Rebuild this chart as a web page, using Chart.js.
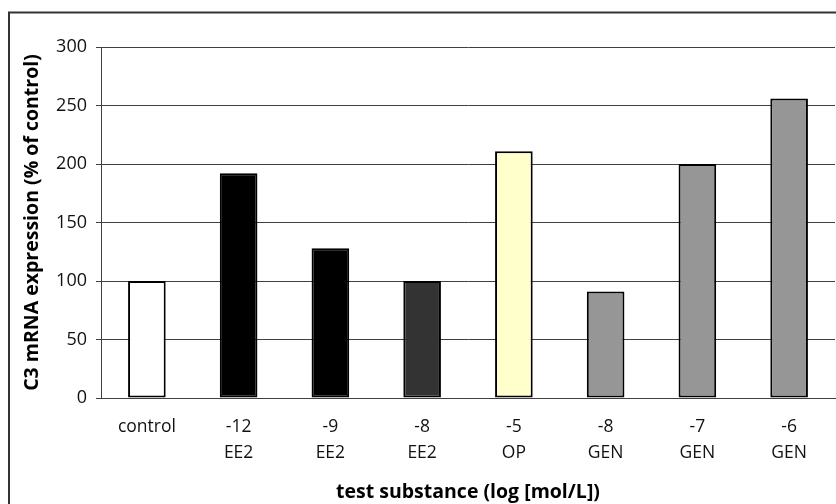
<!DOCTYPE html>
<html>
<head>
<meta charset="utf-8">
<script src="https://cdn.jsdelivr.net/npm/chart.js@4/dist/chart.umd.min.js"></script>
<style>
  html, body { margin: 0; padding: 0; background: #ffffff; }
  #wrap { width: 836px; height: 504px; position: relative; }
</style>
</head>
<body>
<div id="wrap"><canvas id="c" width="836" height="504"></canvas></div>
<script>
// ---- data ----
const concentrations = ["control", "-12", "-9", "-8", "-5", "-8", "-7", "-6"];
const substances = ["", "EE2", "EE2", "EE2", "OP", "GEN", "GEN", "GEN"];
const expression = [100, 192, 128, 100, 211, 91, 200, 256];
const barColors = ["#ffffff", "#000000", "#000000", "#333333", "#ffffcc", "#969696", "#969696", "#969696"];
const yTicks = [0, 50, 100, 150, 200, 250, 300];
const yTitle = "C3 mRNA expression (% of control)";
const xTitle = "test substance (log [mol/L])";

const labels = concentrations.map((c, i) => substances[i] ? [c, substances[i]] : [c]);

const FONT = "'Open Sans', 'Noto Sans', sans-serif";

const framePlugin = {
  id: 'frame',
  afterDraw(chart) {
    const ctx = chart.ctx;
    ctx.save();
    ctx.strokeStyle = '#333333';
    ctx.lineWidth = 2;
    ctx.strokeRect(9, 12.5, 900, 900);
    ctx.restore();
  }
};

new Chart(document.getElementById('c'), {
  type: 'bar',
  data: {
    labels: labels,
    datasets: [{
      data: expression,
      backgroundColor: barColors,
      borderColor: '#000000',
      borderWidth: 2,
      borderSkipped: false,
      barPercentage: 0.41,
      categoryPercentage: 1.0
    }]
  },
  options: {
    responsive: false,
    animation: false,
    devicePixelRatio: 1,
    layout: { padding: { top: 47, right: 1, bottom: 0, left: 0 } },
    plugins: {
      legend: { display: false },
      tooltip: { enabled: false }
    },
    scales: {
      x: {
        grid: { display: false, drawTicks: false },
        border: { display: true, color: '#404040', width: 1 },
        ticks: {
          color: '#111111',
          padding: 17,
          maxRotation: 0,
          autoSkip: false,
          font: { family: FONT, size: 17.5, lineHeight: 1.43 }
        },
        title: {
          display: true,
          text: xTitle,
          color: '#000000',
          padding: { top: 0, bottom: 0 },
          font: { family: FONT, size: 19.5, weight: 'bold', lineHeight: 1.2 }
        },
        afterFit(scale) { scale.height = 106; }
      },
      y: {
        min: 0,
        max: 300,
        afterBuildTicks(scale) { scale.ticks = yTicks.map(v => ({ value: v })); },
        grid: { color: '#404040', lineWidth: 1, tickLength: 5, drawTicks: true },
        border: { display: true, color: '#404040', width: 1 },
        ticks: {
          color: '#111111',
          padding: 9,
          font: { family: FONT, size: 18 }
        },
        title: {
          display: true,
          text: yTitle,
          color: '#000000',
          padding: { top: 21, bottom: 0 },
          font: { family: FONT, size: 19.5, weight: 'bold', lineHeight: 1.2 }
        },
        afterFit(scale) { scale.width = 101; }
      }
    }
  },
  plugins: [framePlugin]
});
</script>
</body>
</html>
